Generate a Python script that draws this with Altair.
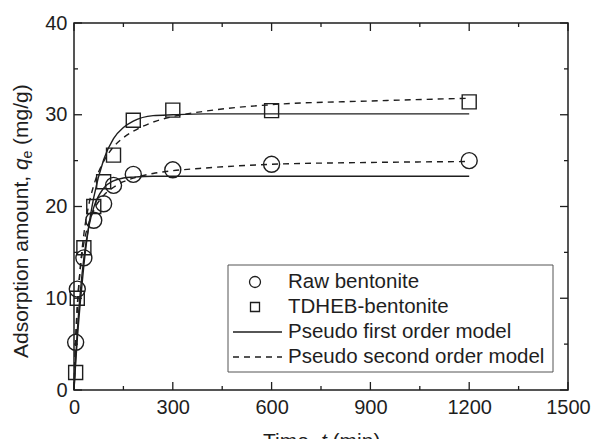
import altair as alt
import pandas as pd

# ---------------- data ----------------
time_points = [5, 10, 30, 60, 90, 120, 180, 300, 600, 1200]
raw_qe = [5.2, 11.0, 14.4, 18.5, 20.3, 22.3, 23.5, 24.0, 24.6, 25.0]
tdheb_qe = [1.9, 10.0, 15.5, 20.0, 22.7, 25.6, 29.4, 30.5, 30.45, 31.4]

model_time = [0, 5, 10, 20, 30, 45, 60, 90, 120, 150, 180, 240, 300, 400, 600, 900, 1200]
raw_first = [0, 3.4, 6.4, 11.0, 14.4, 17.8, 19.9, 22.0, 22.8, 23.1, 23.2, 23.3, 23.3, 23.3, 23.3, 23.3, 23.3]
tdheb_first = [0, 2.9, 5.5, 9.9, 13.6, 17.9, 21.0, 25.1, 27.4, 28.6, 29.3, 29.9, 30.0, 30.1, 30.1, 30.1, 30.1]
raw_second = [0, 5.6, 9.2, 13.5, 16.0, 18.2, 19.6, 21.2, 22.1, 22.7, 23.1, 23.6, 23.9, 24.2, 24.6, 24.8, 24.9]
tdheb_second = [0, 5.0, 8.7, 13.7, 17.0, 20.2, 22.3, 24.9, 26.5, 27.5, 28.2, 29.2, 29.8, 30.4, 31.1, 31.5, 31.8]

x_major = [0, 300, 600, 900, 1200, 1500]
x_minor = [150, 450, 750, 1050, 1350]
y_major = [0, 10, 20, 30, 40]
y_minor = [5, 15, 25, 35]

legend_labels = ["Raw bentonite", "TDHEB-bentonite",
                 "Pseudo first order model", "Pseudo second order model"]

# ---------------- styling ----------------
FONT = "Liberation Sans"
INK = "#1e1e1e"
W, H = 494, 367

x_scale = alt.Scale(domain=[0, 1500], nice=False, zero=False)
y_scale = alt.Scale(domain=[0, 40], nice=False, zero=False)

x_axis = alt.Axis(values=x_major, format="d", ticks=False, tickSize=0, domain=False, grid=False,
                  labelPadding=7, labelFlush=False, labelOverlap=False,
                  labelFontSize=20, labelFont=FONT, labelColor=INK, title=None)
y_axis = alt.Axis(values=y_major, format="d", ticks=False, tickSize=0, domain=False, grid=False,
                  labelPadding=7, labelFlush=False, labelOverlap=False,
                  labelFontSize=20, labelFont=FONT, labelColor=INK, title=None)

X = alt.X("t:Q", scale=x_scale, axis=x_axis)
Y = alt.Y("q:Q", scale=y_scale, axis=y_axis)

# ---------------- tables ----------------
pts_raw = pd.DataFrame({"t": time_points, "q": raw_qe})
pts_td = pd.DataFrame({"t": time_points, "q": tdheb_qe})

first_df = pd.concat([
    pd.DataFrame({"t": model_time, "q": raw_first, "series": "raw"}),
    pd.DataFrame({"t": model_time, "q": tdheb_first, "series": "tdheb"}),
])
second_df = pd.concat([
    pd.DataFrame({"t": model_time, "q": raw_second, "series": "raw"}),
    pd.DataFrame({"t": model_time, "q": tdheb_second, "series": "tdheb"}),
])

xmaj_df = pd.DataFrame({"t": x_major})
xmin_df = pd.DataFrame({"t": x_minor})
ymaj_df = pd.DataFrame({"q": y_major})
ymin_df = pd.DataFrame({"q": y_minor})
one = pd.DataFrame({"k": [0]})

layers = []

# data layers
layers.append(alt.Chart(first_df).mark_line(color=INK, strokeWidth=1.4, interpolate="monotone")
              .encode(x=X, y=Y, detail="series:N", order="t:Q"))
layers.append(alt.Chart(second_df).mark_line(color=INK, strokeWidth=1.4, strokeDash=[6, 5],
                                             interpolate="monotone")
              .encode(x=X, y=Y, detail="series:N", order="t:Q"))
layers.append(alt.Chart(pts_raw).mark_point(shape="circle", filled=False, size=256,
                                            color=INK, strokeWidth=1.4, opacity=1)
              .encode(x=X, y=Y))
layers.append(alt.Chart(pts_td).mark_point(shape="square", filled=False, size=196,
                                           color=INK, strokeWidth=1.4, opacity=1)
              .encode(x=X, y=Y))

# inward ticks on all four sides
for df, ln in ((xmaj_df, 8), (xmin_df, 4)):
    layers.append(alt.Chart(df).mark_rule(color=INK, strokeWidth=1.3)
                  .encode(x=X, y=alt.value(H), y2=alt.value(H - ln)))
    layers.append(alt.Chart(df).mark_rule(color=INK, strokeWidth=1.3)
                  .encode(x=X, y=alt.value(0), y2=alt.value(ln)))
for df, ln in ((ymaj_df, 8), (ymin_df, 4)):
    layers.append(alt.Chart(df).mark_rule(color=INK, strokeWidth=1.3)
                  .encode(y=Y, x=alt.value(0), x2=alt.value(ln)))
    layers.append(alt.Chart(df).mark_rule(color=INK, strokeWidth=1.3)
                  .encode(y=Y, x=alt.value(W), x2=alt.value(W - ln)))

# legend box
layers.append(alt.Chart(one).mark_rect(fill="white", stroke="#555", strokeWidth=1)
              .encode(x=alt.value(154), x2=alt.value(479), y=alt.value(242), y2=alt.value(349)))
rows = [259, 284, 309, 334]
layers.append(alt.Chart(one).mark_point(shape="circle", filled=False, size=121, color=INK,
                                        strokeWidth=1.3, opacity=1)
              .encode(x=alt.value(181), y=alt.value(rows[0])))
layers.append(alt.Chart(one).mark_point(shape="square", filled=False, size=81, color=INK,
                                        strokeWidth=1.3, opacity=1)
              .encode(x=alt.value(181), y=alt.value(rows[1])))
layers.append(alt.Chart(one).mark_rule(color=INK, strokeWidth=1.4)
              .encode(x=alt.value(159), x2=alt.value(208), y=alt.value(rows[2])))
layers.append(alt.Chart(one).mark_rule(color=INK, strokeWidth=1.4, strokeDash=[6, 5])
              .encode(x=alt.value(159), x2=alt.value(208), y=alt.value(rows[3])))
for lab, ry in zip(legend_labels, rows):
    layers.append(alt.Chart(pd.DataFrame({"label": [lab]}))
                  .mark_text(align="left", baseline="middle", fontSize=20.5, font=FONT, color=INK)
                  .encode(x=alt.value(214), y=alt.value(ry), text="label:N"))


def txt(s, x, y, size=21, style="normal", angle=0, baseline="middle"):
    kw = dict(align="left", baseline=baseline, fontSize=size, font=FONT, color=INK,
              fontStyle=style, text=s)
    if angle:
        kw["angle"] = angle
    return alt.Chart(one).mark_text(**kw).encode(x=alt.value(x), y=alt.value(y))


# y-axis title: Adsorption amount, q_e (mg/g)
layers.append(txt("Adsorption amount,", -52, 335, angle=270))
layers.append(txt("q", -52, 147, style="italic", angle=270))
layers.append(txt("e", -46, 135.5, size=14, angle=270))
layers.append(txt("(mg/g)", -52, 122, angle=270))

# x-axis title: Time, t (min)  (partly cut by the lower edge, as in the reference)
layers.append(txt("Time,", 189, 425, baseline="alphabetic"))
layers.append(txt("t", 247, 425, style="italic", baseline="alphabetic"))
layers.append(txt("(min)", 258.6, 425, baseline="alphabetic"))

chart = (
    alt.layer(*layers)
    .properties(width=W, height=H,
                autosize=alt.AutoSizeParams(type="none"),
                padding={"left": 74, "top": 23, "right": 25, "bottom": 49},
                background="white")
    .configure_view(stroke=INK, strokeWidth=1.5)
)

chart.save("out.html", embed_options={"renderer": "svg", "actions": False})
